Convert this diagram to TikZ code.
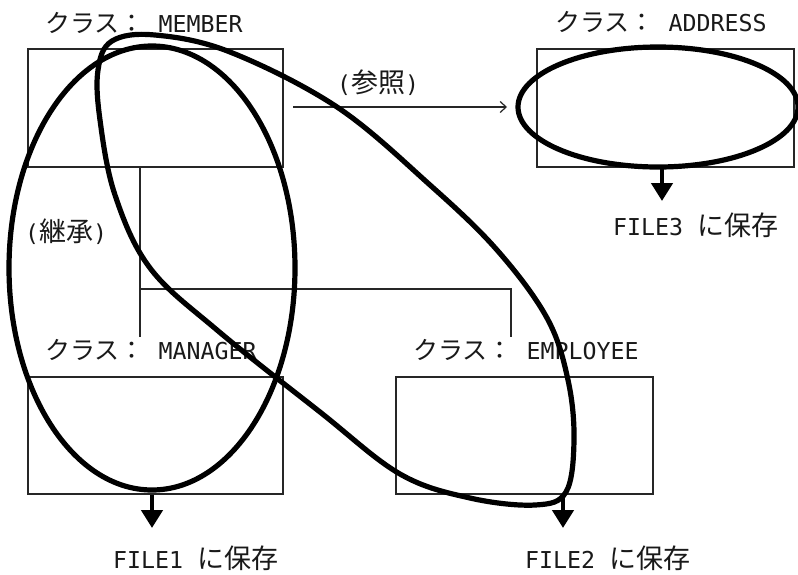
\documentclass[tikz,border=0pt]{standalone}
\usepackage{fontspec}
\newfontfamily\cjkf{Noto Sans CJK JP}
\newfontfamily\monof{DejaVu Sans Mono}
\usetikzlibrary{arrows.meta,calc}
\newcommand\cjk[1]{{\cjkf\fontsize{25}{25}\selectfont #1}}
\newcommand\cjkb[1]{{\cjkf\fontsize{27}{27}\selectfont #1}}
\newcommand\mono[1]{{\monof\fontsize{23.25}{25}\selectfont #1}}
\tikzset{
  classbox/.style={draw=black!85, line width=1.2pt, rectangle, inner sep=0pt},
  lbl/.style={anchor=west, inner sep=0pt, text=black!90},
  thin line/.style={draw=black!85, line width=1.2pt},
  bold loop/.style={draw=black, line width=5.2pt},
  savearrow/.style={draw=black, line width=4.8pt, -{Triangle[width=21pt,length=18pt]}},
  refarrow/.style={draw=black!85, line width=1.2pt, -{Straight Barb[length=6pt,width=11pt]}}
}
\begin{document}
\begin{tikzpicture}[x=1pt,y=-1pt]
\useasboundingbox[fill=white] (0,0) rectangle (798,574);

% class boxes
\node[classbox, minimum width=255pt, minimum height=118pt] (member) at (155.5,108) {};
\node[classbox, minimum width=257pt, minimum height=118pt] (address) at (665.5,108) {};
\node[classbox, minimum width=255pt, minimum height=117pt] (manager) at (155.5,435.5) {};
\node[classbox, minimum width=257pt, minimum height=117pt] (employee) at (524.5,435.5) {};

% labels
\node[lbl] (lmember) at (45,23) {\cjk{クラス：}\mono{\ MEMBER}};
\node[lbl] (laddress) at (555,22) {\cjk{クラス：}\mono{\ ADDRESS}};
\node[lbl] (lmanager) at (45,350) {\cjk{クラス：}\mono{\ MANAGER}};
\node[lbl] (lemployee) at (413,350) {\cjk{クラス：}\mono{\ EMPLOYEE}};
\node[lbl] (lref) at (337,83) {\mono{(}\cjkb{参照}\mono{)}};
\node[lbl] (linh) at (25,232) {\mono{(}\cjkb{継承}\mono{)}};
\node[lbl] (lf3) at (613,225) {\mono{FILE3\ }\cjkb{に保存}};
\node[lbl] (lf1) at (113,558) {\mono{FILE1\ }\cjkb{に保存}};
\node[lbl] (lf2) at (525,558) {\mono{FILE2\ }\cjkb{に保存}};

% inheritance tree
\coordinate (tmem) at (140,167);
\coordinate (tjoin) at (140,289);
\coordinate (tman) at (140,337);
\coordinate (tcorner) at (511,289);
\coordinate (temp) at (511,337);
\draw[thin line] (tmem) -- (tman);
\draw[thin line] (tjoin) -- (tcorner) -- (temp);

% reference arrow
\coordinate (rs) at (293,107);
\coordinate (re) at (507,107);
\draw[refarrow] (rs) -- (re);

% save arrows
\coordinate (f3) at (662,201);
\coordinate (f1) at (152,528);
\coordinate (f2) at (563,528);
\draw[savearrow] (f3 |- address.south) -- (f3);
\draw[savearrow] (f1 |- manager.south) -- (f1);
\draw[savearrow] (f2 |- employee.south) -- (f2);

% bold loops
\draw[bold loop] (152,268) ellipse [x radius=143, y radius=222];
\draw[bold loop] (658,107) ellipse [x radius=140, y radius=60];
\draw[bold loop] plot[smooth cycle, tension=0.6] coordinates {
 (112,41) (155,35) (230,52) (337,107) (430,185) (497,250) (547,318)
 (568,380) (574,440) (566,492) (535,505) (470,498) (400,474) (320,412)
 (217,330) (150,268) (115,195) (100,120) (98,70)};
\end{tikzpicture}
\end{document}
